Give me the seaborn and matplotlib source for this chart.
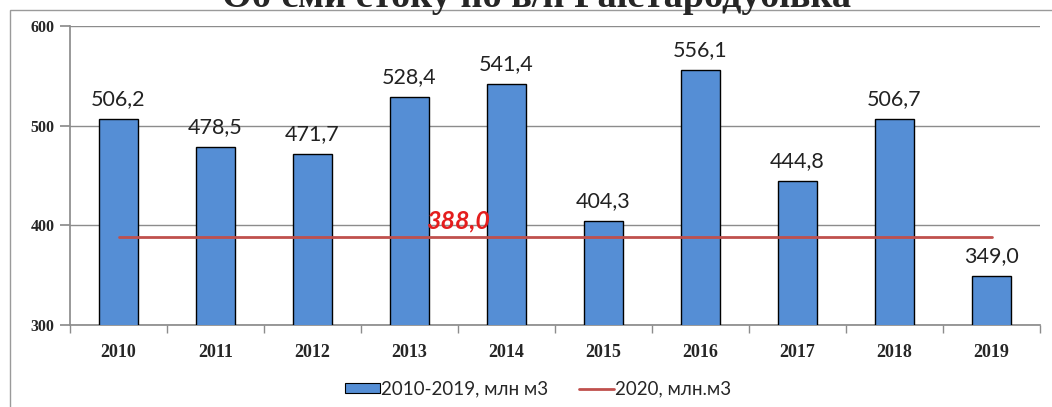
import matplotlib
matplotlib.use("Agg")
import matplotlib.pyplot as plt
import seaborn as sns
import pandas as pd
from matplotlib.patches import Rectangle, Patch
from matplotlib.lines import Line2D

years = ["2010", "2011", "2012", "2013", "2014", "2015", "2016", "2017", "2018", "2019"]
values = [506.2, 478.5, 471.7, 528.4, 541.4, 404.3, 556.1, 444.8, 506.7, 349.0]
line_value = 388.0
yticks = [300, 400, 500, 600]
title = "Об'єми стоку по в/п Раїстародубівка"
bar_label = "2010-2019, млн м3"
line_label = "2020, млн.м3"

sns.set_theme(style="white")
plt.rcParams['font.family'] = ['Lato', 'DejaVu Sans']

df = pd.DataFrame({"year": years, "value": values})

fig = plt.figure(figsize=(10.52, 4.07), dpi=100)
W, H = 1052, 407
ax = fig.add_axes([70 / W, 1 - 325 / H, 970 / W, 299 / H])

sns.barplot(data=df, x="year", y="value", color="#558ED5", saturation=1,
            width=0.4, edgecolor="black", linewidth=1.0, ax=ax, zorder=3)

ax.set_ylim(300, 600)
ax.set_xlim(-0.5, len(years) - 0.5)
ax.set_yticks(yticks)
ax.set_yticklabels([str(v) for v in yticks], fontfamily="Liberation Serif",
                   fontweight="bold", fontsize=11.5)
ax.tick_params(axis="x", length=0, pad=14)
for lab in ax.get_xticklabels():
    lab.set_fontfamily("Liberation Serif")
    lab.set_fontweight("bold")
    lab.set_fontsize(13)
ax.tick_params(axis="y", length=7, color="#8c8c8c", left=True, pad=4)
ax.set_xlabel("")
ax.set_ylabel("")
ax.yaxis.grid(True, color="#8c8c8c", linewidth=1)
ax.set_axisbelow(True)
for s in ["top", "right"]:
    ax.spines[s].set_visible(False)
ax.spines["left"].set_color("#8c8c8c")
ax.spines["bottom"].set_color("#8c8c8c")

# x minor tick marks between categories
ax.set_xticks([i + 0.5 for i in range(-1, len(years))], minor=True)
ax.tick_params(axis="x", which="minor", length=6, color="#8c8c8c", bottom=True)

# 2020 line
ax.plot([0, len(years) - 1], [line_value, line_value], color="#C0504D",
        linewidth=2, zorder=4)
ax.text(3.5, line_value + 5, f"{line_value:.1f}".replace(".", ","), color="#E41E1E",
        fontsize=18, fontweight="bold", fontstyle="italic", ha="center", va="bottom",
        zorder=5)

for i, v in enumerate(values):
    ax.text(i, v + 10, f"{v:.1f}".replace(".", ","), ha="center", va="bottom",
            fontsize=15.5, color="#222222")

# outer frame
fig.patches.append(Rectangle((10 / W, -0.1), 1.1, 1 - 10 / H + 0.1,
                             transform=fig.transFigure, fill=False,
                             edgecolor="#9a9a9a", linewidth=1))

fig.text(537 / W, 1 - 7 / H, title, ha="center", va="baseline",
         fontfamily="Liberation Serif", fontweight="bold", fontsize=27.5)

handles = [Patch(facecolor="#558ED5", edgecolor="black", linewidth=0.8),
           Line2D([0], [0], color="#C0504D", linewidth=2)]
fig.legend(handles, [bar_label, line_label], loc="center",
           bbox_to_anchor=(538 / W, 1 - 389 / H), ncol=2, frameon=False,
           fontsize=13.5, handlelength=1.9, handleheight=0.45, handletextpad=0.05,
           columnspacing=1.6)

fig.savefig("out.png", dpi=100)
